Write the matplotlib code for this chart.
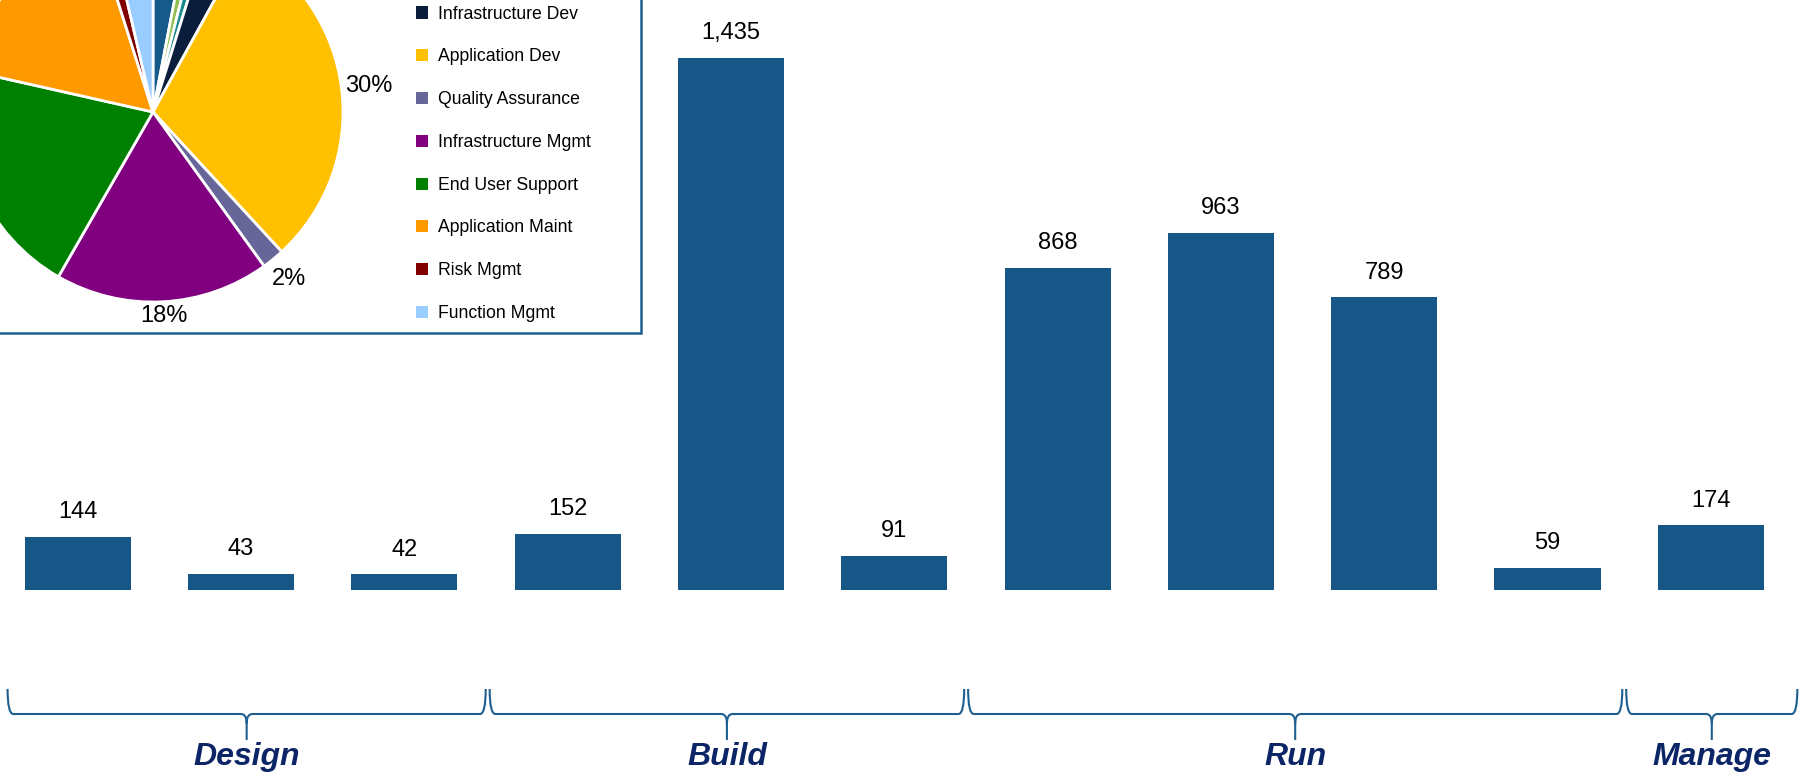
import matplotlib
matplotlib.use("Agg")
import numpy as np
import matplotlib.pyplot as plt
from matplotlib.patches import Rectangle, Patch, PathPatch
from matplotlib.path import Path
import matplotlib.transforms as mtransforms

# ---------------- data ----------------
categories = ["IT Strategy", "Enterprise Architecture", "Solution Design",
              "Infrastructure Dev", "Application Dev", "Quality Assurance",
              "Infrastructure Mgmt", "End User Support", "Application Maint",
              "Risk Mgmt", "Function Mgmt"]
values = [144, 43, 42, 152, 1435, 91, 868, 963, 789, 59, 174]
groups = ["Design", "Build", "Run", "Manage"]
group_sizes = [3, 3, 4, 1]
pie_colors = ["#165A8A", "#92C04E", "#1A8A8A", "#0A1E3C", "#FFC000", "#666699",
              "#800080", "#008000", "#FF9900", "#800000", "#99CCFF"]

# ---------------- style / layout ----------------
BAR_COLOR = "#165788"
BRACE_COLOR = "#1F5F8F"
GROUP_COLOR = "#0B2566"
FONT = ["Liberation Sans", "DejaVu Sans"]
brace_edges = [-0.43, 2.51, 5.44, 9.47, 10.53]   # layout of the braces (bar-index units)
brace_gap = 0.012

W, H = 1807, 780
fig = plt.figure(figsize=(W / 100, H / 100), dpi=100)

# ---------------- bar axes (full figure) ----------------
ax = fig.add_axes([0, 0, 1, 1])
pitch = 163.3
x0px = 77.8
ax.set_xlim(-x0px / pitch, (W - x0px) / pitch)
scale = 0.371  # px per unit
base = 590
ax.set_ylim(-(H - base) / scale, base / scale)
ax.axis("off")

xs = list(range(len(values)))
ax.bar(xs, values, width=0.65, color=BAR_COLOR, zorder=2)
for x, v in zip(xs, values):
    ax.annotate(f"{v:,}", (x, v), xytext=(0, 13.5), textcoords="offset points",
                ha="center", va="baseline", fontsize=17, family=FONT, color="black")

# ---------------- braces + group labels ----------------
trans = mtransforms.blended_transform_factory(ax.transData, ax.transAxes)
top, mid, bot = 0.1167, 0.0846, 0.0513
d, h = 0.035, 0.012
for i, g in enumerate(groups):
    b0 = brace_edges[i] + (brace_gap if i > 0 else 0)
    b1 = brace_edges[i + 1] - (brace_gap if i < len(groups) - 1 else 0)
    xc = (b0 + b1) / 2
    verts = [(b0, top), (b0, mid), (b0 + d, mid), (xc - d, mid),
             (xc, mid), (xc, mid - h), (xc, bot),
             (xc, mid - h), (xc, mid), (xc + d, mid), (b1 - d, mid),
             (b1, mid), (b1, top)]
    codes = [Path.MOVETO, Path.CURVE3, Path.CURVE3, Path.LINETO,
             Path.CURVE3, Path.CURVE3, Path.LINETO,
             Path.MOVETO, Path.CURVE3, Path.CURVE3, Path.LINETO,
             Path.CURVE3, Path.CURVE3]
    ax.add_patch(PathPatch(Path(verts, codes), transform=trans, fill=False,
                           edgecolor=BRACE_COLOR, lw=1.5, clip_on=False))
    ax.text(xc, 0.0295, g, transform=trans, ha="center", va="center",
            fontsize=23, fontweight="bold", fontstyle="italic",
            family=FONT, color=GROUP_COLOR)

# ---------------- inset frame ----------------
box_right = 641 / W
box_bottom = 1 - 333 / H
ax.add_patch(Rectangle((-0.01, box_bottom), box_right + 0.01, 1 - box_bottom + 0.01,
                       transform=fig.transFigure, facecolor="white",
                       edgecolor=BRACE_COLOR, lw=1.8, clip_on=False, zorder=5))

# ---------------- pie ----------------
R = 190
cx, cy = 153, 112
half = 1.4 * R
pax = fig.add_axes([(cx - half) / W, (H - cy - half) / H, 2 * half / W, 2 * half / H])
pax.set_zorder(3)
wedges, texts, autotexts = pax.pie(
    values, colors=pie_colors, startangle=90, counterclock=False, radius=1,
    autopct=lambda p: f"{p:.0f}%", pctdistance=1.13,
    wedgeprops=dict(edgecolor="white", linewidth=2))
gap_px, hw_px, hh_px = 5, 22, 8
for t in autotexts:
    t.set_fontsize(17)
    t.set_family(FONT)
    t.set_color("black")
    px, py = t.get_position()
    n = np.hypot(px, py)
    ux, uy = px / n, py / n
    r = 1 + (gap_px + hw_px * abs(ux) + hh_px * abs(uy)) / R
    t.set_position((r * ux, r * uy))
pax.set_xlim(-1.4, 1.4)
pax.set_ylim(-1.4, 1.4)
pax.set_aspect("equal")
pax.axis("off")

# ---------------- legend ----------------
handles = [Patch(facecolor=c, edgecolor="none") for c in pie_colors]
leg = fig.legend(handles, categories, loc="lower left",
                 bbox_to_anchor=(416 / W, 1 - 322 / H), bbox_transform=fig.transFigure,
                 frameon=False, borderpad=0, borderaxespad=0,
                 prop=dict(family=FONT, size=12.7),
                 handlelength=0.68, handleheight=0.68, handletextpad=0.55,
                 labelspacing=1.46)
leg.set_zorder(6)

fig.savefig("out.png", dpi=100)
